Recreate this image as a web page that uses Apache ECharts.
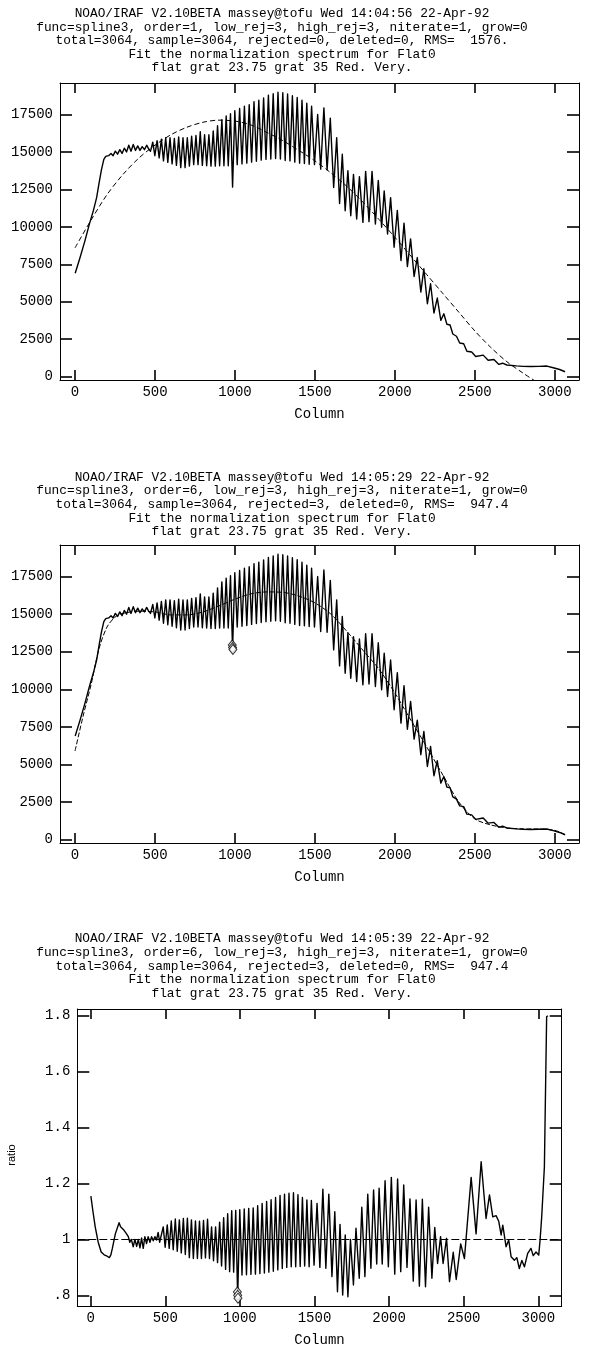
<!DOCTYPE html>
<html>
<head>
<meta charset="utf-8">
<script src="https://cdn.jsdelivr.net/npm/echarts@6/dist/echarts.min.js"></script>
<style>
html,body{margin:0;padding:0;background:#fff;}
#chart{width:595px;height:1349px;}
</style>
</head>
<body>
<div id="chart"></div>
<script>
// ---------------- DATA ----------------
const xTicks = [0, 500, 1000, 1500, 2000, 2500, 3000];
const yTicksFlux = [0, 2500, 5000, 7500, 10000, 12500, 15000, 17500];
const yTicksRatio = [0.8, 1.0, 1.2, 1.4, 1.6, 1.8];

const titleP1 = [
  "NOAO/IRAF V2.10BETA massey@tofu Wed 14:04:56 22-Apr-92",
  "func=spline3, order=1, low_rej=3, high_rej=3, niterate=1, grow=0",
  "total=3064, sample=3064, rejected=0, deleted=0, RMS=  1576.",
  "Fit the normalization spectrum for Flat0",
  "flat grat 23.75 grat 35 Red. Very."
];
const titleP2 = [
  "NOAO/IRAF V2.10BETA massey@tofu Wed 14:05:29 22-Apr-92",
  "func=spline3, order=6, low_rej=3, high_rej=3, niterate=1, grow=0",
  "total=3064, sample=3064, rejected=3, deleted=0, RMS=  947.4",
  "Fit the normalization spectrum for Flat0",
  "flat grat 23.75 grat 35 Red. Very."
];
const titleP3 = [
  "NOAO/IRAF V2.10BETA massey@tofu Wed 14:05:39 22-Apr-92",
  "func=spline3, order=6, low_rej=3, high_rej=3, niterate=1, grow=0",
  "total=3064, sample=3064, rejected=3, deleted=0, RMS=  947.4",
  "Fit the normalization spectrum for Flat0",
  "flat grat 23.75 grat 35 Red. Very."
];
const xName = "Column";
const yNameRatio = "ratio";

// spectrum: smooth rising head
const specHeadCol = [1,30,60,90,115,135,150,165,180,192,210,225,238,252,266,280,294,308,322,336,350,364,378,392,406,420,434,448,460];
const specHead    = [6900,7900,9000,10200,11100,11950,12900,13800,14500,14700,14750,14900,14750,15050,14850,15150,14900,15250,15000,15450,15050,15500,15100,15400,15100,15350,15150,15450,15200];

// fringe extrema columns (troughs / peaks), shared by spectrum and ratio
const fringeCol = [
  472,486,499,513,526,540,553,567,580,594,607,621,634,648,661,675,688,702,715,729,
  742,756,769,783,796,810,823,837,850,864,877,891,904,918,931,945,958,972,985,999,
  1014,1029,1044,1059,1074,1089,1104,1119,1134,1149,1164,1179,1194,1209,1224,1239,
  1254,1269,1284,1299,1314,1329,1344,1359,1374,1389,1404,1419,1434,1449,1464,1479,
  1497,1517,1536,1556,1576,1596,1617,1636,1654,1671,1689,1706,1724,1741,1761,1778,
  1800,1817,1838,1857,1878,1896,1917,1933,1954,1973,1995,2015,2038,2057,2078,2098,
  2120,2140,2162,2181,2203,2223,2244,2265,2287,2306,2325,2345,2362,2385,2405,2430,
  2450,2480,2505
];
const specFringe = [
  15050,15650,14750,15750,14600,15850,14400,15950,14300,15950,14200,15900,14100,16000,13950,15950,13950,15950,14050,16050,
  14150,16100,14150,16350,14100,16150,14080,16150,14050,16400,14050,16750,14080,17150,14080,17400,14080,17550,12650,17750,
  14150,17900,14200,18050,14250,18150,14320,18350,14380,18450,14450,18600,14500,18780,14530,18880,
  14560,18980,14530,18950,14430,18870,14400,18750,14320,18630,14250,18450,14230,18250,14180,18050,
  14150,17500,13850,17940,13800,17250,12625,15950,11560,14850,11070,13750,10740,13500,10520,13350,
  10300,13700,10350,13700,10190,13100,9970,12400,9520,11950,8640,11100,7750,10250,7350,9200,
  6690,7950,5650,7200,4870,6200,4250,5250,3760,4200,3500,3450,2850,2700,2250,2200,
  1700,1650,1350
];
const specTailCol = [2552,2583,2619,2650,2673,2700,2760,2800,2850,2900,2950,2990,3030,3064];
const specTail    = [1440,1100,1150,820,900,780,720,690,680,690,710,600,480,330];

// ratio (panel 3)
const ratioHeadCol = [1,15,30,50,70,90,110,125,135,145,155,165,175,190,200,210,220,230,240,252,262,272,285,296,308,319,330,341,352,363,374,385,397,408,419,430,441,452,462];
const ratioHead    = [1.155,1.10,1.045,0.99,0.955,0.945,0.94,0.935,0.945,0.968,0.97,1.02,1.015,1.06,1.045,1.04,1.035,1.04,1.02,1.01,0.99,1.0,0.974,1.0,0.975,1.0,0.97,1.005,0.968,1.01,0.985,1.01,0.99,1.01,0.995,1.01,0.998,1.025,0.99];
const ratioFringe = [
  0.985,1.045,0.972,1.052,0.968,1.066,0.963,1.073,0.958,1.070,0.952,1.075,0.946,1.076,0.935,1.070,0.932,1.066,0.932,1.065,
  0.932,1.068,0.934,1.072,0.932,1.045,0.924,1.045,0.917,1.062,0.905,1.078,0.893,1.092,0.885,1.103,0.883,1.104,0.790,1.106,
  0.873,1.109,0.874,1.111,0.875,1.113,0.876,1.121,0.878,1.129,0.880,1.136,0.883,1.142,0.886,1.150,
  0.891,1.157,0.896,1.162,0.900,1.165,0.902,1.167,0.902,1.160,0.903,1.150,0.905,1.141,0.902,1.139,
  0.908,1.129,0.900,1.180,0.897,1.162,0.867,1.099,0.813,1.054,0.801,1.016,0.795,1.000,0.837,1.040,
  0.861,1.115,0.867,1.162,0.897,1.177,0.912,1.183,0.912,1.210,0.902,1.222,0.876,1.216,0.885,1.195,
  0.900,1.145,0.851,1.141,0.833,1.144,0.831,1.115,0.861,1.043,0.914,1.010,0.914,1.004,0.849,0.954,
  0.857,0.984,0.932
];
const ratioTailCol = [2550,2583,2617,2650,2673,2695,2717,2735,2751,2762,2784,2802,2818,2840,2856,2873,2890,2907,2929,2951,2966,2985,3003,3012,3023,3041,3056,3064];
const ratioTail    = [1.222,1.02,1.278,1.075,1.159,1.081,1.085,1.065,1.016,1.051,0.974,0.998,0.938,0.926,0.935,0.896,0.925,0.902,0.950,0.968,0.942,0.955,0.944,0.998,1.081,1.26,1.796,1.80];

// fits
const fit1Col = [0,100,200,300,400,500,600,700,800,900,1000,1100,1200,1300,1400,1500,1600,1700,1800,1900,2000,2100,2200,2300,2400,2500,2600,2700,2800,2900];
const fit1Val = [8600,10450,12150,13500,14600,15450,16150,16650,16980,17120,17060,16800,16300,15750,15100,14400,13600,12700,11650,10500,9300,8050,6800,5550,4300,3050,1950,1000,250,-450];
const fit2Col = [0,50,100,150,200,250,300,400,500,600,700,800,900,1000,1100,1200,1300,1400,1500,1600,1700,1800,1900,2000,2100,2200,2300,2400,2500,2600,2700,2800,2900,3000,3064];
const fit2Val = [5900,8200,10300,12700,14150,14800,15050,15200,15150,14950,14950,15150,15550,16000,16350,16480,16450,16200,15750,15000,13850,12600,11350,9750,7950,6150,4300,2500,1380,980,780,720,710,620,330];
const ratioFitLevel = 1;

// rejected points
const rejCol   = [983, 985, 987];
const rejSpec  = [12950, 12780, 12650];
const rejRatio = [0.812, 0.800, 0.790];

// ---------------- BUILD ----------------
function pairs(cols, vals) { return cols.map((c, i) => [c, vals[i]]); }
const spectrum = pairs(specHeadCol, specHead).concat(pairs(fringeCol, specFringe), pairs(specTailCol, specTail));
const ratio = pairs(ratioHeadCol, ratioHead).concat(pairs(fringeCol, ratioFringe), pairs(ratioTailCol, ratioTail));

const MONO = '"Liberation Mono", "DejaVu Sans Mono", monospace';

const panels = [
  { left: 60, top: 83, width: 519, height: 297, xmin: -94, xmax: 3151, ymin: -220, ymax: 19600, yticks: yTicksFlux, titles: titleP1, titleY: 13.7 },
  { left: 60, top: 545, width: 519, height: 298, xmin: -94, xmax: 3151, ymin: -220, ymax: 19600, yticks: yTicksFlux, titles: titleP2, titleY: 477.5 },
  { left: 77.3, top: 1009, width: 484.4, height: 297, xmin: -90, xmax: 3157, ymin: 0.762, ymax: 1.824, yticks: yTicksRatio, titles: titleP3, titleY: 939 }
];

function ratioFmt(v) {
  let s = String(Math.round(v * 10) / 10);
  if (s.indexOf('0.') === 0) s = s.slice(1);
  return s;
}
function plainFmt(v) { return String(Math.round(v)); }

const grid = [], xAxis = [], yAxis = [], graphic = [];
panels.forEach((p, g) => {
  grid.push({ left: p.left, top: p.top, width: p.width, height: p.height, containLabel: false });
  ['bottom', 'top'].forEach(pos => {
    xAxis.push({
      type: 'value', gridIndex: g, position: pos, min: p.xmin, max: p.xmax,
      splitLine: { show: false },
      axisLine: { show: true, onZero: false, lineStyle: { color: '#000', width: 1 } },
      axisTick: { show: true, inside: true, length: 10, customValues: xTicks, lineStyle: { color: '#000', width: 1.6 } },
      axisLabel: pos === 'bottom'
        ? { show: true, customValues: xTicks, margin: 5, color: '#000', fontFamily: MONO, fontSize: 14, formatter: plainFmt }
        : { show: false },
      name: pos === 'bottom' ? xName : '',
      nameLocation: 'middle', nameGap: 27,
      nameTextStyle: { color: '#000', fontFamily: MONO, fontSize: 14 }
    });
  });
  ['left', 'right'].forEach(pos => {
    yAxis.push({
      type: 'value', gridIndex: g, position: pos, min: p.ymin, max: p.ymax,
      splitLine: { show: false },
      axisLine: { show: true, onZero: false, lineStyle: { color: '#000', width: 1 } },
      axisTick: { show: true, inside: true, length: 12, customValues: p.yticks, lineStyle: { color: '#000', width: 1.6 } },
      axisLabel: pos === 'left'
        ? { show: true, customValues: p.yticks, margin: 7, color: '#000', fontFamily: MONO, fontSize: 14,
            formatter: g === 2 ? ratioFmt : plainFmt }
        : { show: false }
    });
  });
  p.titles.forEach((t, i) => {
    graphic.push({
      type: 'text', x: 282, y: p.titleY + i * 13.6, silent: true,
      style: { text: t, font: '12.8px ' + MONO, fill: '#000', textAlign: 'center', textVerticalAlign: 'middle', align: 'center', verticalAlign: 'middle' }
    });
  });
});
graphic.push({
  type: 'text', x: 12, y: 1155, rotation: Math.PI / 2, silent: true,
  style: { text: yNameRatio, font: '11px "Liberation Sans Narrow", "Liberation Sans", sans-serif', fill: '#000', textAlign: 'center', textVerticalAlign: 'middle', align: 'center', verticalAlign: 'middle' }
});

const lineBase = (xi, data, extra) => Object.assign({
  type: 'line', xAxisIndex: xi, yAxisIndex: xi, data: data, symbol: 'none', silent: true, clip: true,
  lineStyle: { color: '#000', width: 1.4, join: 'round' }
}, extra || {});

const diamond = (xi, data) => ({
  type: 'scatter', xAxisIndex: xi, yAxisIndex: xi, data: data, symbol: 'diamond', symbolSize: [8, 10], silent: true,
  itemStyle: { color: '#fff', borderColor: '#000', borderWidth: 1 }, z: 5
});

const option = {
  animation: false,
  backgroundColor: '#fff',
  grid, xAxis, yAxis, graphic,
  series: [
    lineBase(0, spectrum),
    lineBase(0, pairs(fit1Col, fit1Val), { smooth: 0.3, lineStyle: { color: '#000', width: 1, type: [5, 3] } }),
    lineBase(2, spectrum),
    lineBase(2, pairs(fit2Col, fit2Val), { smooth: 0.3, lineStyle: { color: '#000', width: 1, type: [5, 2] } }),
    diamond(2, pairs(rejCol, rejSpec)),
    lineBase(4, ratio, {
      markLine: { silent: true, symbol: ['none', 'none'], label: { show: false },
        lineStyle: { color: '#000', width: 1, type: [8, 3] }, data: [{ yAxis: ratioFitLevel }] }
    }),
    diamond(4, pairs(rejCol, rejRatio))
  ]
};

const chart = echarts.init(document.getElementById('chart'), null, { renderer: 'canvas' });
chart.setOption(option);
</script>
</body>
</html>
